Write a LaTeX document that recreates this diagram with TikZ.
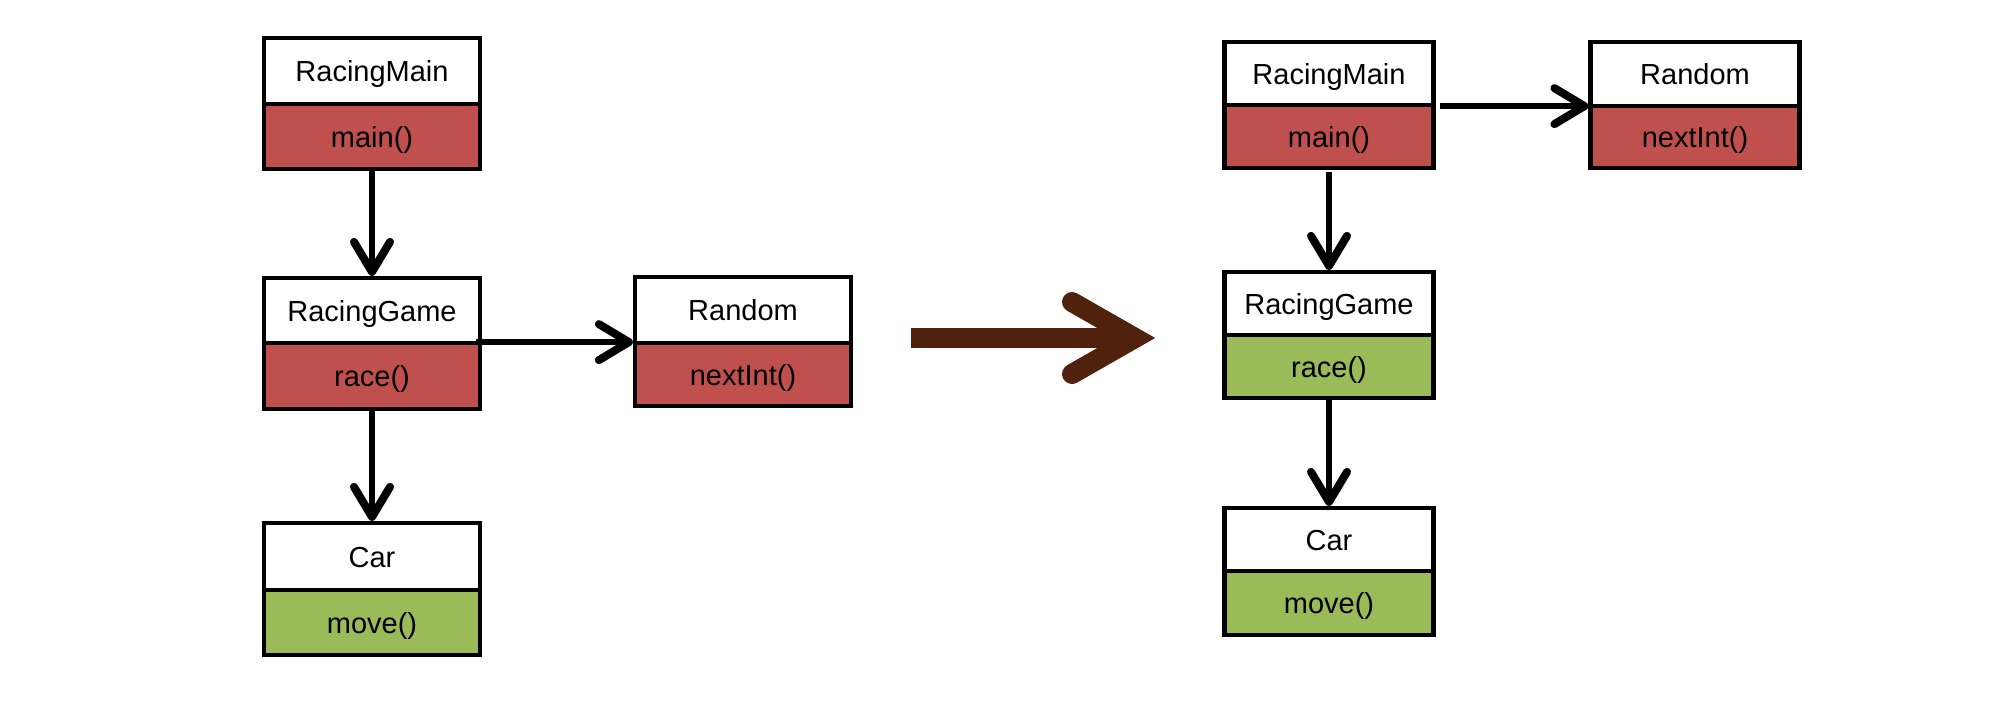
\documentclass[tikz,border=0pt]{standalone}
\usepackage{fontspec}
\setmainfont{Liberation Sans}
\usetikzlibrary{arrows.meta,calc}
\definecolor{clsred}{RGB}{192,80,77}
\definecolor{clsgreen}{RGB}{155,187,89}
\definecolor{bigbrown}{RGB}{80,34,14}
\tikzset{
  hdr/.style={draw=black, line width=4.2pt, fill=white, inner sep=0pt,
    text height=25pt, text depth=4pt, font=\fontsize{29}{34}\selectfont},
  mred/.style={hdr, fill=clsred},
  mgreen/.style={hdr, fill=clsgreen},
  conn/.style={draw=black, line width=6.7pt,
    -{Straight Barb[length=30pt,width=36pt,line width=8pt,round]}},
}
\begin{document}
\begin{tikzpicture}[x=1pt,y=-1pt]
\useasboundingbox (0,0) rectangle (1997,702);
% ---------- left diagram ----------
\node[hdr, minimum width=216pt, minimum height=66pt] (rmLh) at (372,71) {RacingMain};
\node[mred, minimum width=216pt, minimum height=65pt] (rmLm) at (372,136.5) {main()};
\node[hdr, minimum width=216pt, minimum height=65pt] (rgLh) at (372,310.5) {RacingGame};
\node[mred, minimum width=216pt, minimum height=66pt] (rgLm) at (372,376) {race()};
\node[hdr, minimum width=216pt, minimum height=66pt] (rndLh) at (743,310) {Random};
\node[mred, minimum width=216pt, minimum height=63pt] (rndLm) at (743,374.5) {nextInt()};
\node[hdr, minimum width=216pt, minimum height=67pt] (carLh) at (372,556.5) {Car};
\node[mgreen, minimum width=216pt, minimum height=65pt] (carLm) at (372,622.5) {move()};
\draw[conn] (rmLm.south) -- (rgLh.north);
\draw[conn] (rgLm.south) -- (carLh.north);
\draw[conn] ($(rgLh.south east)+(-6,-3)$) -- ($(rgLh.south east -| rndLh.west)+(0,-3)$);
% ---------- big arrow ----------
\coordinate (bigS) at (911,338);
\coordinate (bigV) at (1135,338);
\coordinate (bigU) at (1072,302);
\coordinate (bigD) at (1072,374);
\draw[bigbrown, line width=20.6pt] (bigS) -- ($(bigV)+(-8,0)$);
\draw[bigbrown, line width=20pt, line cap=round, line join=miter] (bigU) -- (bigV) -- (bigD);
% ---------- right diagram ----------
\node[hdr, minimum width=209pt, minimum height=63pt] (rmRh) at (1329,73.5) {RacingMain};
\node[mred, minimum width=209pt, minimum height=63pt] (rmRm) at (1329,136.5) {main()};
\node[hdr, minimum width=209pt, minimum height=64pt] (rndRh) at (1695,74) {Random};
\node[mred, minimum width=209pt, minimum height=62pt] (rndRm) at (1695,137) {nextInt()};
\node[hdr, minimum width=209pt, minimum height=63pt] (rgRh) at (1329,303.5) {RacingGame};
\node[mgreen, minimum width=209pt, minimum height=63pt] (rgRm) at (1329,366.5) {race()};
\node[hdr, minimum width=209pt, minimum height=63pt] (carRh) at (1329,539.5) {Car};
\node[mgreen, minimum width=209pt, minimum height=64pt] (carRm) at (1329,603) {move()};
\draw[conn] ($(rmRm.south)+(0,2)$) -- (rgRh.north);
\draw[conn] (rgRm.south) -- (carRh.north);
\draw[conn] ($(rmRh.south east)+(4,-1)$) -- ($(rmRh.south east -| rndRh.west)+(0,-1)$);
\end{tikzpicture}
\end{document}
